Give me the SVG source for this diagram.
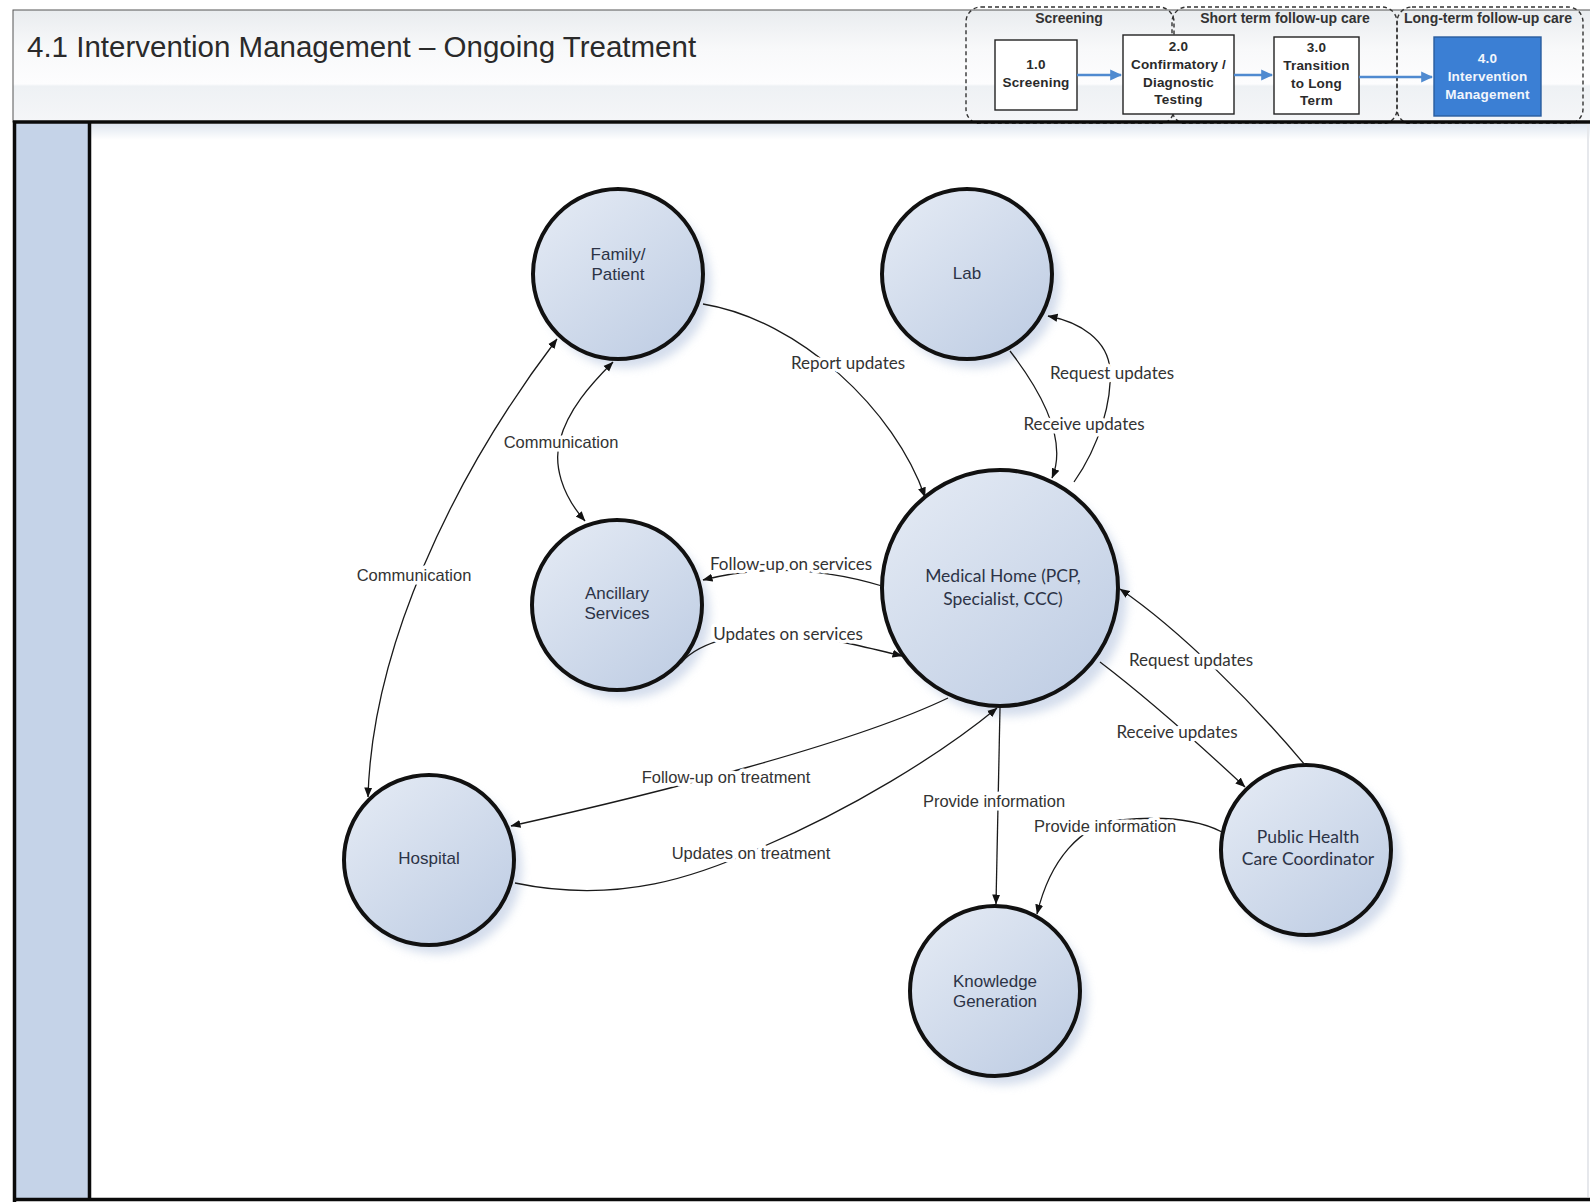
<svg xmlns="http://www.w3.org/2000/svg" width="1590" height="1202" viewBox="0 0 1590 1202">
  <defs>
    <linearGradient id="hdrBg" x1="0" y1="0" x2="0" y2="1">
      <stop offset="0" stop-color="#e9ecef"/>
      <stop offset="0.35" stop-color="#f8f9fa"/>
      <stop offset="0.66" stop-color="#fdfdfe"/>
      <stop offset="0.68" stop-color="#eef1f4"/>
      <stop offset="1" stop-color="#f5f6f8"/>
    </linearGradient>
    <linearGradient id="laneTop" x1="0" y1="0" x2="0" y2="1">
      <stop offset="0" stop-color="#dfe6f0"/>
      <stop offset="1" stop-color="#ffffff"/>
    </linearGradient>
    <linearGradient id="nodeFill" x1="0.15" y1="0.1" x2="0.85" y2="0.95">
      <stop offset="0" stop-color="#e1e8f3"/>
      <stop offset="1" stop-color="#c0cee4"/>
    </linearGradient>
    <filter id="soft" x="-30%" y="-30%" width="160%" height="160%">
      <feGaussianBlur stdDeviation="5"/>
    </filter>
    <marker id="arr" viewBox="0 0 10 10" refX="9.5" refY="5" markerWidth="10" markerHeight="10" markerUnits="userSpaceOnUse" orient="auto-start-reverse">
      <path d="M0,1 L10,5 L0,9 z" fill="#111"/>
    </marker>
    <marker id="barr" viewBox="0 0 10 10" refX="9" refY="5" markerWidth="12" markerHeight="12" markerUnits="userSpaceOnUse" orient="auto">
      <path d="M0,0.5 L10,5 L0,9.5 z" fill="#4f8ad0"/>
    </marker>
    <style>
      .title { font-family: "Liberation Sans", Arial, sans-serif; font-size: 29.5px; fill: #2a2a2a; }
      .stage { fill: none; stroke: #333; stroke-width: 1.4; stroke-dasharray: 4 3; }
      .stageLbl { font-family: "Liberation Sans", Arial, sans-serif; font-size: 14px; font-weight: bold; fill: #333; text-anchor: middle; }
      .step { fill: #ffffff; stroke: #222; stroke-width: 1.4; }
      .stepBlue { fill: #3b7fd4; stroke: #2a5d9e; stroke-width: 1.4; }
      .stepTxt { font-family: "Liberation Sans", Arial, sans-serif; font-size: 13.5px; font-weight: bold; fill: #2a2a2a; text-anchor: middle; letter-spacing: 0.2px; }
      .stepTxtW { font-family: "Liberation Sans", Arial, sans-serif; font-size: 13.5px; font-weight: bold; fill: #f2f6fc; text-anchor: middle; letter-spacing: 0.2px; }
      .flow { stroke: #4f8ad0; stroke-width: 2.6; fill: none; marker-end: url(#barr); }
      .shadow { fill: #c6d2e6; opacity: 0.75; filter: url(#soft); }
      .node { fill: url(#nodeFill); stroke: #111; stroke-width: 4; }
      .nTxt { font-family: "Liberation Sans", Arial, sans-serif; font-size: 17px; fill: #2c3346; text-anchor: middle; }
      .nTxtH { font-family: Lato, "Liberation Sans", sans-serif; font-size: 17.5px; fill: #2c3346; text-anchor: middle; }
      .conn { fill: none; stroke: #1a1a1a; stroke-width: 1.3; }
      .lbl { font-family: "Liberation Sans", Arial, sans-serif; font-size: 16.5px; fill: #333; text-anchor: middle; stroke: #ffffff; stroke-width: 7; stroke-linejoin: round; paint-order: stroke; }
      .lblH { font-family: Lato, "Liberation Sans", sans-serif; font-size: 17px; fill: #333; text-anchor: middle; stroke: #ffffff; stroke-width: 7; stroke-linejoin: round; paint-order: stroke; }
    </style>
  </defs>

  <rect width="1590" height="1202" fill="#ffffff"/>

  <!-- page header -->
  <g id="header">
    <rect x="13" y="10" width="1580" height="112" fill="url(#hdrBg)" stroke="#555" stroke-width="1"/>
    <text class="title" x="27" y="57">4.1 Intervention Management – Ongoing Treatment</text>
  </g>

  <!-- process stage overview -->
  <g id="stages">
    <rect class="stage" x="966" y="7" width="208" height="117" rx="15"/>
    <rect class="stage" x="1172" y="7" width="225" height="117" rx="15"/>
    <rect class="stage" x="1397" y="7" width="186" height="117" rx="15"/>
    <text class="stageLbl" x="1069" y="23">Screening</text>
    <text class="stageLbl" x="1285" y="23">Short term follow-up care</text>
    <text class="stageLbl" x="1488" y="23">Long-term follow-up care</text>

    <g id="step-1">
      <rect class="step" x="995" y="40" width="82" height="70"/>
      <text class="stepTxt" x="1036" y="68.5">1.0</text>
      <text class="stepTxt" x="1036" y="86.5">Screening</text>
    </g>
    <g id="step-2">
      <rect class="step" x="1123" y="35" width="111" height="79"/>
      <text class="stepTxt" x="1178.5" y="51">2.0</text>
      <text class="stepTxt" x="1178.5" y="68.5">Confirmatory /</text>
      <text class="stepTxt" x="1178.5" y="86.5">Diagnostic</text>
      <text class="stepTxt" x="1178.5" y="104">Testing</text>
    </g>
    <g id="step-3">
      <rect class="step" x="1274" y="37" width="85" height="77"/>
      <text class="stepTxt" x="1316.5" y="52">3.0</text>
      <text class="stepTxt" x="1316.5" y="69.5">Transition</text>
      <text class="stepTxt" x="1316.5" y="87.5">to Long</text>
      <text class="stepTxt" x="1316.5" y="104.5">Term</text>
    </g>
    <g id="step-4">
      <rect class="stepBlue" x="1434" y="37" width="107" height="79"/>
      <text class="stepTxtW" x="1487.5" y="62.5">4.0</text>
      <text class="stepTxtW" x="1487.5" y="80.5">Intervention</text>
      <text class="stepTxtW" x="1487.5" y="98.5">Management</text>
    </g>
    <g id="stage-flow">
      <line class="flow" x1="1077" y1="75" x2="1121" y2="75"/>
      <line class="flow" x1="1234" y1="75" x2="1272" y2="75"/>
      <line class="flow" x1="1359" y1="77" x2="1432" y2="77"/>
    </g>
  </g>

  <!-- swimlane frame -->
  <g id="lane">
    <rect x="91" y="124" width="1499" height="16" fill="url(#laneTop)"/>
    <rect x="14" y="123" width="75" height="1076" fill="#c5d3e8"/>
    <line x1="13" y1="122" x2="1590" y2="122" stroke="#0a0a0a" stroke-width="3.5"/>
    <line x1="14.5" y1="121" x2="14.5" y2="1202" stroke="#0a0a0a" stroke-width="3.5"/>
    <line x1="89.5" y1="121" x2="89.5" y2="1200" stroke="#0a0a0a" stroke-width="3.5"/>
    <line x1="13" y1="1199.5" x2="1590" y2="1199.5" stroke="#0a0a0a" stroke-width="3.5"/>
    <line x1="1588" y1="124" x2="1588" y2="1197" stroke="#e6e8ec" stroke-width="2"/>
  </g>

  <!-- shadows under the nodes -->
  <g id="node-shadows">
    <circle class="shadow" cx="626" cy="283" r="85"/>
    <circle class="shadow" cx="975" cy="283" r="85"/>
    <circle class="shadow" cx="1009" cy="598" r="118"/>
    <circle class="shadow" cx="625" cy="614" r="85"/>
    <circle class="shadow" cx="437" cy="869" r="85"/>
    <circle class="shadow" cx="1003" cy="1000" r="85"/>
    <circle class="shadow" cx="1315" cy="859" r="85"/>
  </g>

  <g id="node-family-patient">
    <circle class="node" cx="618" cy="274" r="85"/>
    <text class="nTxt" x="618" y="259.5">Family/</text>
    <text class="nTxt" x="618" y="279.5">Patient</text>
  </g>
  <g id="node-lab">
    <circle class="node" cx="967" cy="274" r="85"/>
    <text class="nTxt" x="967" y="279">Lab</text>
  </g>
  <g id="node-medical-home">
    <circle class="node" cx="1000" cy="588" r="118"/>
    <text class="nTxtH" x="1003" y="582">Medical Home (PCP,</text>
    <text class="nTxtH" x="1003" y="605">Specialist, CCC)</text>
  </g>
  <g id="node-ancillary">
    <circle class="node" cx="617" cy="605" r="85"/>
    <text class="nTxt" x="617" y="599">Ancillary</text>
    <text class="nTxt" x="617" y="619">Services</text>
  </g>
  <g id="node-hospital">
    <circle class="node" cx="429" cy="860" r="85"/>
    <text class="nTxt" x="429" y="864">Hospital</text>
  </g>
  <g id="node-knowledge">
    <circle class="node" cx="995" cy="991" r="85"/>
    <text class="nTxt" x="995" y="986.5">Knowledge</text>
    <text class="nTxt" x="995" y="1007">Generation</text>
  </g>
  <g id="node-public-health">
    <circle class="node" cx="1306" cy="850" r="85"/>
    <text class="nTxtH" x="1308" y="843">Public Health</text>
    <text class="nTxtH" x="1308" y="865">Care Coordinator</text>
  </g>

  <!-- connectors -->
  <g id="connectors">
    <path class="conn" marker-end="url(#arr)" d="M703,304 C800,320 895,410 925,497"/>
    <path class="conn" marker-end="url(#arr)" d="M1010,351 C1040,390 1068,440 1052,478"/>
    <path class="conn" marker-end="url(#arr)" d="M1074,482 C1100,445 1112,400 1110,370 C1108,340 1080,322 1048,316"/>
    <path class="conn" marker-start="url(#arr)" marker-end="url(#arr)" d="M613,362 C590,385 568,410 560,440 C553,465 562,495 585,521"/>
    <path class="conn" marker-start="url(#arr)" marker-end="url(#arr)" d="M557,339 C450,480 372,650 368,797"/>
    <path class="conn" marker-end="url(#arr)" d="M882,586 Q790,558 703,580"/>
    <path class="conn" marker-end="url(#arr)" d="M681,663 C700,640 750,630 788,634 C830,638 870,648 902,656"/>
    <path class="conn" marker-end="url(#arr)" d="M948,698 C850,745 650,795 511,826"/>
    <path class="conn" marker-end="url(#arr)" d="M515,883 C620,905 700,875 760,848 C850,810 940,755 997,708"/>
    <path class="conn" marker-end="url(#arr)" d="M1000,708 L996,904"/>
    <path class="conn" marker-end="url(#arr)" d="M1222,832 C1195,818 1160,816 1120,820 C1080,825 1050,860 1037,914"/>
    <path class="conn" marker-end="url(#arr)" d="M1305,765 C1255,705 1180,630 1120,589"/>
    <path class="conn" marker-end="url(#arr)" d="M1100,662 C1150,700 1200,745 1245,787"/>

    <text class="lblH" x="848" y="369">Report updates</text>
    <text class="lblH" x="1112" y="379">Request updates</text>
    <text class="lblH" x="1084" y="430">Receive updates</text>
    <text class="lbl" x="561" y="448">Communication</text>
    <text class="lbl" x="414" y="581">Communication</text>
    <text class="lblH" x="791" y="570">Follow-up on services</text>
    <text class="lblH" x="788" y="640">Updates on services</text>
    <text class="lbl" x="726" y="783">Follow-up on treatment</text>
    <text class="lbl" x="751" y="859">Updates on treatment</text>
    <text class="lbl" x="994" y="807">Provide information</text>
    <text class="lbl" x="1105" y="832">Provide information</text>
    <text class="lblH" x="1191" y="666">Request updates</text>
    <text class="lblH" x="1177" y="738">Receive updates</text>
  </g>
</svg>
